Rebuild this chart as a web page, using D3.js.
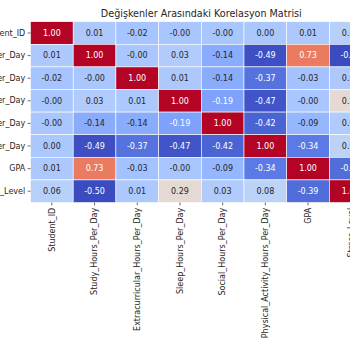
<!DOCTYPE html>
<html>
<head>
<meta charset="utf-8">
<script src="https://cdn.jsdelivr.net/npm/d3@7"></script>
<style>
  body { margin: 0; background: #fff; }
  svg { display: block; font-family: "DejaVu Sans", sans-serif; }
</style>
</head>
<body>
<div id="chart"></div>
<script>
const WIDTH = 350, HEIGHT = 350;
const MARGIN = { LEFT: 30.5, TOP: 21.7 };
const CELL_W = 42.7, CELL_H = 22.6;

const title = "Değişkenler Arasındaki Korelasyon Matrisi";

const variables = [
  "Student_ID", "Study_Hours_Per_Day", "Extracurricular_Hours_Per_Day",
  "Sleep_Hours_Per_Day", "Social_Hours_Per_Day", "Physical_Activity_Hours_Per_Day",
  "GPA", "Stress_Level"
];

// korelasyon degerleri (satir satir), -0.004 -> "-0.00"
const rowStudent  = [1.00, 0.01, -0.02, -0.004, -0.004, 0.00, 0.01, 0.06];
const rowStudy    = [0.01, 1.00, -0.004, 0.03, -0.14, -0.49, 0.73, -0.50];
const rowExtra    = [-0.02, -0.004, 1.00, 0.01, -0.14, -0.37, -0.03, 0.01];
const rowSleep    = [-0.004, 0.03, 0.01, 1.00, -0.19, -0.47, -0.004, 0.29];
const rowSocial   = [-0.004, -0.14, -0.14, -0.19, 1.00, -0.42, -0.09, 0.03];
const rowPhysical = [0.00, -0.49, -0.37, -0.47, -0.42, 1.00, -0.34, 0.08];
const rowGPA      = [0.01, 0.73, -0.03, -0.004, -0.09, -0.34, 1.00, -0.39];
const rowStress   = [0.06, -0.50, 0.01, 0.29, 0.03, 0.08, -0.39, 1.00];

const matrix = [rowStudent, rowStudy, rowExtra, rowSleep, rowSocial, rowPhysical, rowGPA, rowStress];

// coolwarm (matplotlib) ara renkleri
const coolwarm = [
  "#3b4cc0", "#445acc", "#4d68d7", "#5775e1", "#6282ea", "#6c8ef1", "#779af7", "#82a5fb",
  "#8db0fe", "#98b9ff", "#a3c2ff", "#aec9fd", "#b8d0f9", "#c2d5f4", "#ccd9ee", "#d5dbe6",
  "#dddddd", "#e5d8d1", "#ecd3c5", "#f1ccb8", "#f5c4ac", "#f7bb9f", "#f7b193", "#f7a686",
  "#f49a7b", "#f18d6f", "#ec7f63", "#e57059", "#de604d", "#d55043", "#cb3e38", "#c0282f",
  "#b40426"
];

const cells = [];
matrix.forEach((row, i) => row.forEach((v, j) => cells.push({ r: variables[i], c: variables[j], v })));

const x = d3.scaleBand()
  .domain(variables)
  .range([MARGIN.LEFT, MARGIN.LEFT + CELL_W * variables.length]);

const y = d3.scaleBand()
  .domain(variables)
  .range([MARGIN.TOP, MARGIN.TOP + CELL_H * variables.length]);

const color = d3.scaleSequential(d3.piecewise(d3.interpolateRgb, coolwarm))
  .domain(d3.extent(cells, d => d.v));

function luminance(c) {
  const rgb = d3.rgb(c);
  const lin = [rgb.r, rgb.g, rgb.b].map(v => {
    v /= 255;
    return v <= 0.03928 ? v / 12.92 : Math.pow((v + 0.055) / 1.055, 2.4);
  });
  return 0.2126 * lin[0] + 0.7152 * lin[1] + 0.0722 * lin[2];
}

const svg = d3.select("#chart").append("svg")
  .attr("width", WIDTH)
  .attr("height", HEIGHT);

svg.append("text")
  .attr("x", MARGIN.LEFT + CELL_W * variables.length / 2)
  .attr("y", 17)
  .attr("text-anchor", "middle")
  .style("font-size", "9.6px")
  .attr("fill", "#262626")
  .text(title);

svg.append("g").selectAll("rect")
  .data(cells)
  .join("rect")
  .attr("x", d => x(d.c))
  .attr("y", d => y(d.r))
  .attr("width", x.bandwidth())
  .attr("height", y.bandwidth())
  .attr("fill", d => color(d.v))
  .attr("stroke", "white")
  .attr("stroke-width", 0.6);

svg.append("g").selectAll("text")
  .data(cells)
  .join("text")
  .attr("x", d => x(d.c) + x.bandwidth() / 2)
  .attr("y", d => y(d.r) + y.bandwidth() / 2)
  .attr("dy", "0.35em")
  .attr("text-anchor", "middle")
  .style("font-size", "8px")
  .attr("fill", d => luminance(color(d.v)) > 0.408 ? "#262626" : "#ffffff")
  .text(d => d.v.toFixed(2));

// eksenler
const yAxis = svg.append("g")
  .attr("transform", `translate(${MARGIN.LEFT}, 0)`)
  .call(d3.axisLeft(y).tickSize(2.8).tickPadding(2.5));
yAxis.select(".domain").remove();
yAxis.selectAll("line").attr("stroke", "#262626").attr("stroke-width", 0.7);
yAxis.selectAll("text")
  .style("font-size", "8px")
  .style("font-family", "DejaVu Sans")
  .attr("fill", "#262626");

const xAxis = svg.append("g")
  .attr("transform", `translate(0, ${MARGIN.TOP + CELL_H * variables.length})`)
  .call(d3.axisBottom(x).tickSize(2.8).tickPadding(2.5));
xAxis.select(".domain").remove();
xAxis.selectAll("line").attr("stroke", "#262626").attr("stroke-width", 0.7);
xAxis.selectAll("text")
  .style("font-size", "8px")
  .style("font-family", "DejaVu Sans")
  .attr("fill", "#262626")
  .attr("text-anchor", "end")
  .attr("transform", "rotate(-90)")
  .attr("x", -5.3)
  .attr("y", 0)
  .attr("dy", "0.35em");
</script>
</body>
</html>
